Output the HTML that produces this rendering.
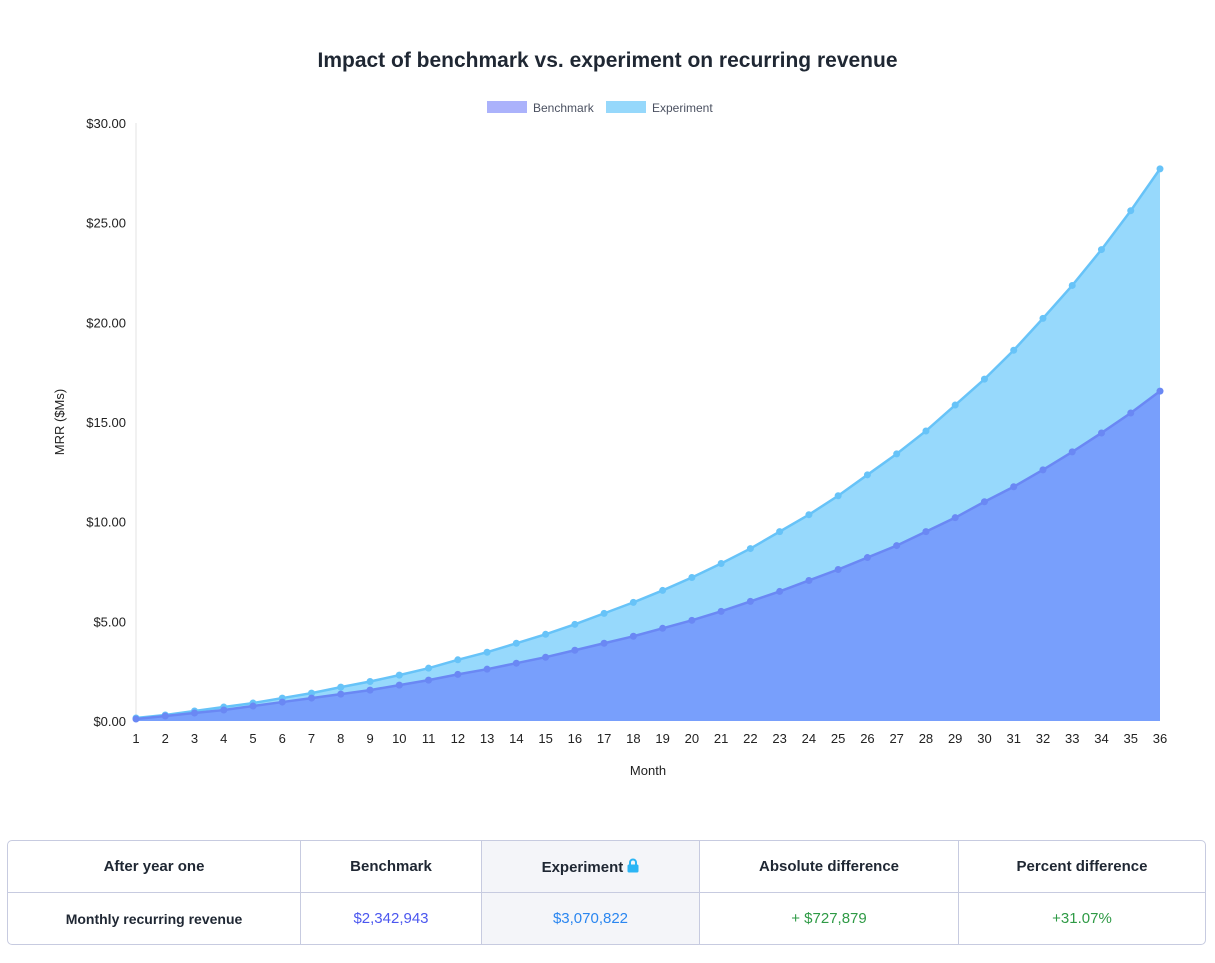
<!DOCTYPE html>
<html><head><meta charset="utf-8">
<style>
body{margin:0;width:1215px;height:963px;background:#fff;font-family:"Liberation Sans",sans-serif;overflow:hidden;position:relative}
#title{position:absolute;top:49px;left:0;width:1215px;text-align:center;font-size:21px;font-weight:bold;color:#1f2733}
table{position:absolute;left:7px;top:840px;width:1199px;border-collapse:separate;border-spacing:0;border:1px solid #c7cbe0;border-radius:5px;font-size:15px}
td,th{border-right:1px solid #c7cbe0;text-align:center;height:51px;padding:0}
th{border-bottom:1px solid #c7cbe0;color:#1f2733}
td:last-child,th:last-child{border-right:none}
.exp{background:#f4f5f9}
</style></head><body>
<div id="title">Impact of benchmark vs. experiment on recurring revenue</div>
<svg id="chart" width="1215" height="800" style="position:absolute;left:0;top:0"></svg>
<table>
<tr><th style="width:292px">After year one</th><th style="width:180px">Benchmark</th><th class="exp" style="width:217px">Experiment <svg width="12" height="15" viewBox="0 0 12 15" style="vertical-align:-1px"><path d="M3 7V4.5a3 3 0 0 1 6 0V7" fill="none" stroke="#2bb5f5" stroke-width="2"/><rect x="0.5" y="6.5" width="11" height="8" rx="1.5" fill="#2bb5f5"/></svg></th><th style="width:258px">Absolute difference</th><th>Percent difference</th></tr>
<tr><td style="font-weight:bold;color:#1f2733;font-size:14px">Monthly recurring revenue</td><td style="color:#4b57ef">$2,342,943</td><td class="exp" style="color:#2a86f0">$3,070,822</td><td style="color:#2e9a45">+ $727,879</td><td style="color:#2e9a45">+31.07%</td></tr>
</table>
<script>
const months=[1,2,3,4,5,6,7,8,9,10,11,12,13,14,15,16,17,18,19,20,21,22,23,24,25,26,27,28,29,30,31,32,33,34,35,36];
const benchmark=[0.1,0.25,0.4,0.55,0.75,0.95,1.15,1.35,1.55,1.8,2.05,2.34,2.6,2.9,3.2,3.55,3.9,4.25,4.65,5.05,5.5,6.0,6.5,7.05,7.6,8.2,8.8,9.5,10.2,11.0,11.75,12.6,13.5,14.45,15.45,16.55];
const experiment=[0.15,0.3,0.5,0.7,0.9,1.15,1.4,1.7,1.98,2.3,2.65,3.07,3.45,3.9,4.35,4.85,5.4,5.95,6.55,7.2,7.9,8.65,9.5,10.35,11.3,12.35,13.4,14.55,15.85,17.15,18.6,20.2,21.85,23.65,25.6,27.7];
const yTicks=[0,5,10,15,20,25,30];
const NS="http://www.w3.org/2000/svg";
const svg=document.getElementById('chart');
const X=m=>136+(m-1)*(1160-136)/35;
const Y=v=>721-v*(721-123)/30;
function mk(t,a,p){const e=document.createElementNS(NS,t);for(const k in a)e.setAttribute(k,a[k]);(p||svg).appendChild(e);return e;}
// y axis line
const ax=mk('line',{x1:136,y1:123,x2:136,y2:721,stroke:'#e3e3e3'});


yTicks.forEach(v=>{const t=mk('text',{x:126,y:Y(v)+5,'text-anchor':'end','font-size':13,fill:'#222'});t.textContent='$'+v.toFixed(2);

});
months.forEach(m=>{const t=mk('text',{x:X(m),y:743,'text-anchor':'middle','font-size':13,fill:'#222'});t.textContent=m;

});
function series(vals,fill,stroke,name){
 const pts=vals.map((v,i)=>X(months[i])+','+Y(v)).join(' ');
 const a=mk('polygon',{points:X(months[0])+','+Y(0)+' '+pts+' '+X(months[months.length-1])+','+Y(0),fill:fill});
 
 
 const l=mk('polyline',{points:pts,fill:'none',stroke:stroke,'stroke-width':2.5});
 
 
 vals.forEach((v,i)=>{const c=mk('circle',{cx:X(months[i]),cy:Y(v),r:3.5,fill:stroke});
 
 });
}
series(experiment,'#97d9fc','#67c3f8','experiment');
series(benchmark,'#789ffc','#6a88f4','benchmark');
const yt=mk('text',{x:64,y:422,'text-anchor':'middle','font-size':13,fill:'#222',transform:'rotate(-90 64 422)'});yt.textContent='MRR ($Ms)';


const xt=mk('text',{x:648,y:775,'text-anchor':'middle','font-size':13,fill:'#222'});xt.textContent='Month';


[['Benchmark','#abb2fb',487],['Experiment','#96d8fb',606]].forEach(([n,c,x])=>{
 const g=mk('g',{});
 
 
 mk('rect',{x:x,y:101,width:40,height:12,fill:c},g);
 const t=mk('text',{x:x+46,y:112,'font-size':12,fill:'#4a5060'},g);t.textContent=n;
});
</script>
</body></html>
